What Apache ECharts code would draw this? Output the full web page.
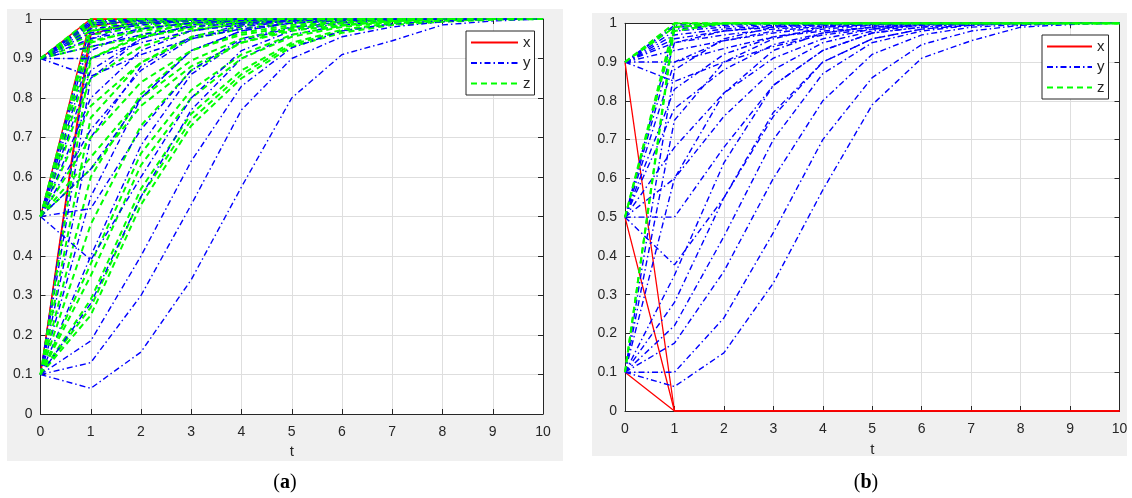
<!DOCTYPE html>
<html><head><meta charset="utf-8">
<script src="https://cdn.jsdelivr.net/npm/echarts@6/dist/echarts.min.js"></script>
<style>html,body{margin:0;padding:0;background:#fff}#c{width:1132px;height:498px}</style>
</head><body><div id="c"></div><script>
const tVals = [0,1,2,3,4,5,6,7,8,9,10];

// Panel (a)
const aX = [
[0.9,1,1,1,1,1,1,1,1,1,1],
[0.5,1,1,1,1,1,1,1,1,1,1],
[0.1,0.98,1,1,1,1,1,1,1,1,1],
[0.1,0.96,1,1,1,1,1,1,1,1,1]
];
const aY = [
[0.1,0.065,0.157,0.34,0.575,0.80,0.91,0.945,0.985,0.995,1],
[0.1,0.13,0.30,0.53,0.77,0.90,0.955,0.98,0.993,1,1],
[0.1,0.185,0.40,0.64,0.83,0.927,0.97,0.988,0.996,1,1],
[0.1,0.28,0.55,0.77,0.90,0.96,0.985,0.995,1,1,1],
[0.1,0.40,0.68,0.86,0.945,0.978,0.992,0.998,1,1,1],
[0.1,0.55,0.80,0.92,0.97,0.99,0.997,1,1,1,1],
[0.1,0.70,0.88,0.955,0.985,0.995,1,1,1,1,1],
[0.1,0.85,0.95,0.985,0.995,1,1,1,1,1,1],
[0.1,0.95,0.99,0.998,1,1,1,1,1,1,1],
[0.5,0.39,0.60,0.80,0.92,0.97,0.99,0.997,1,1,1],
[0.5,0.52,0.72,0.87,0.95,0.98,0.993,1,1,1,1],
[0.5,0.62,0.80,0.92,0.97,0.99,0.997,1,1,1,1],
[0.5,0.72,0.87,0.95,0.98,0.994,1,1,1,1,1],
[0.5,0.80,0.92,0.97,0.99,0.997,1,1,1,1,1],
[0.5,0.87,0.95,0.985,0.995,1,1,1,1,1,1],
[0.5,0.92,0.975,0.99,0.998,1,1,1,1,1,1],
[0.5,0.96,0.99,0.998,1,1,1,1,1,1,1],
[0.5,0.985,0.997,1,1,1,1,1,1,1,1],
[0.9,0.855,0.91,0.95,0.975,0.99,0.996,1,1,1,1],
[0.9,0.90,0.94,0.97,0.985,0.995,1,1,1,1,1],
[0.9,0.93,0.96,0.98,0.99,0.997,1,1,1,1,1],
[0.9,0.95,0.975,0.99,0.996,1,1,1,1,1,1],
[0.9,0.965,0.985,0.995,1,1,1,1,1,1,1],
[0.9,0.975,0.99,0.997,1,1,1,1,1,1,1],
[0.9,0.985,0.995,1,1,1,1,1,1,1,1],
[0.9,0.99,0.998,1,1,1,1,1,1,1,1],
[0.9,0.995,1,1,1,1,1,1,1,1,1]
];
const aZ = [
[0.1,0.25,0.53,0.73,0.85,0.93,0.965,0.985,0.993,0.998,1],
[0.1,0.27,0.55,0.745,0.86,0.935,0.97,0.987,0.995,1,1],
[0.1,0.29,0.57,0.76,0.87,0.94,0.973,0.99,0.996,1,1],
[0.1,0.35,0.63,0.80,0.90,0.955,0.98,0.993,1,1,1],
[0.1,0.38,0.66,0.82,0.91,0.96,0.983,0.995,1,1,1],
[0.1,0.48,0.73,0.87,0.94,0.975,0.99,1,1,1,1],
[0.1,0.60,0.81,0.92,0.965,0.985,0.995,1,1,1,1],
[0.1,0.75,0.89,0.955,0.982,0.994,1,1,1,1,1],
[0.1,0.90,0.96,0.99,0.997,1,1,1,1,1,1],
[0.5,0.62,0.78,0.88,0.94,0.97,0.985,0.995,1,1,1],
[0.5,0.65,0.80,0.895,0.95,0.975,0.99,0.997,1,1,1],
[0.5,0.70,0.84,0.92,0.96,0.98,0.993,1,1,1,1],
[0.5,0.78,0.89,0.95,0.975,0.99,0.997,1,1,1,1],
[0.5,0.85,0.93,0.97,0.99,0.997,1,1,1,1,1],
[0.5,0.90,0.955,0.98,0.993,1,1,1,1,1,1],
[0.5,0.94,0.975,0.99,0.998,1,1,1,1,1,1],
[0.5,0.97,0.99,0.998,1,1,1,1,1,1,1],
[0.5,0.99,1,1,1,1,1,1,1,1,1],
[0.9,0.93,0.955,0.975,0.985,0.993,0.998,1,1,1,1],
[0.9,0.945,0.97,0.985,0.993,1,1,1,1,1,1],
[0.9,0.96,0.98,0.99,0.996,1,1,1,1,1,1],
[0.9,0.97,0.985,0.995,1,1,1,1,1,1,1],
[0.9,0.98,0.99,0.997,1,1,1,1,1,1,1],
[0.9,0.985,0.995,1,1,1,1,1,1,1,1],
[0.9,0.99,0.998,1,1,1,1,1,1,1,1],
[0.9,0.995,1,1,1,1,1,1,1,1,1],
[0.9,1,1,1,1,1,1,1,1,1,1]
];

// Panel (b)
const bX = [
[0.9,0,0,0,0,0,0,0,0,0,0],
[0.5,0,0,0,0,0,0,0,0,0,0],
[0.1,0,0,0,0,0,0,0,0,0,0]
];
const bY = [
[0.1,0.063,0.15,0.33,0.57,0.79,0.91,0.955,0.99,0.997,1],
[0.1,0.10,0.24,0.46,0.70,0.86,0.945,0.98,0.995,1,1],
[0.1,0.175,0.36,0.60,0.80,0.92,0.97,0.99,0.997,1,1],
[0.1,0.22,0.45,0.70,0.87,0.95,0.98,0.995,1,1,1],
[0.1,0.28,0.55,0.77,0.90,0.96,0.985,0.997,1,1,1],
[0.1,0.35,0.64,0.84,0.93,0.975,0.99,1,1,1,1],
[0.1,0.60,0.82,0.93,0.975,0.99,0.997,1,1,1,1],
[0.1,0.75,0.90,0.96,0.99,0.997,1,1,1,1,1],
[0.1,0.88,0.96,0.99,0.998,1,1,1,1,1,1],
[0.5,0.377,0.55,0.76,0.90,0.96,0.985,0.995,1,1,1],
[0.5,0.50,0.68,0.84,0.93,0.975,0.99,1,1,1,1],
[0.5,0.60,0.76,0.88,0.95,0.98,0.995,1,1,1,1],
[0.5,0.68,0.82,0.91,0.96,0.985,0.997,1,1,1,1],
[0.5,0.78,0.88,0.945,0.975,0.99,1,1,1,1,1],
[0.5,0.83,0.92,0.965,0.985,0.995,1,1,1,1,1],
[0.5,0.90,0.955,0.98,0.993,1,1,1,1,1,1],
[0.5,0.95,0.98,0.993,1,1,1,1,1,1,1],
[0.5,0.985,0.995,1,1,1,1,1,1,1,1],
[0.9,0.85,0.90,0.94,0.97,0.985,0.995,1,1,1,1],
[0.9,0.90,0.935,0.965,0.98,0.99,0.997,1,1,1,1],
[0.9,0.93,0.955,0.975,0.99,0.996,1,1,1,1,1],
[0.9,0.95,0.97,0.985,0.995,1,1,1,1,1,1],
[0.9,0.96,0.98,0.99,0.997,1,1,1,1,1,1],
[0.9,0.97,0.985,0.995,1,1,1,1,1,1,1],
[0.9,0.98,0.99,0.998,1,1,1,1,1,1,1],
[0.9,0.99,0.996,1,1,1,1,1,1,1,1],
[0.9,0.995,1,1,1,1,1,1,1,1,1]
];
const bZ = [
[0.1,0.99,1,1,1,1,1,1,1,1,1],
[0.1,1,1,1,1,1,1,1,1,1,1],
[0.5,0.98,1,1,1,1,1,1,1,1,1],
[0.5,1,1,1,1,1,1,1,1,1,1],
[0.9,0.99,1,1,1,1,1,1,1,1,1],
[0.9,1,1,1,1,1,1,1,1,1,1]
];
const legendNames = ['x','y','z'];
const panelLabels = ['a','b'];

const AX = '#262626';
const FONT = 'Liberation Sans';
const styles = {
  x: {color:'#ff0000', width:1.3, type:'solid'},
  y: {color:'#0000ff', width:1.4, type:[6,3,1.5,3]},
  z: {color:'#00ff00', width:2, type:[6,4]}
};
function mk(name, arr, ai){
  return {type:'line', name:name, xAxisIndex:ai, yAxisIndex:ai,
    data: tVals.map((t,i)=>[t, arr[i]]), symbol:'none', showSymbol:false,
    silent:true, animation:false, clip:true,
    itemStyle:{color:styles[name].color},
    lineStyle: styles[name]};
}
const series = [];
aX.forEach(a=>series.push(mk('x',a,0)));
for (let i=0;i<aY.length;i++){ series.push(mk('y',aY[i],0)); series.push(mk('z',aZ[i],0)); }
bX.forEach(a=>series.push(mk('x',a,2)));
bY.forEach(a=>series.push(mk('y',a,2)));
bZ.forEach(a=>series.push(mk('z',a,2)));

function xAxes(g, gap){
  return [
   {gridIndex:g, type:'value', min:0, max:10, interval:1, position:'bottom',
    axisLine:{show:true, onZero:false, lineStyle:{color:AX,width:1}},
    axisTick:{show:true, inside:true, length:5, lineStyle:{color:AX}},
    axisLabel:{margin:11, color:AX, fontSize:14, fontFamily:FONT},
    splitLine:{show:true, lineStyle:{color:'#dedede', width:1}},
    name:'t', nameLocation:'middle', nameGap:gap,
    nameTextStyle:{color:AX, fontSize:15, fontFamily:FONT}},
   {gridIndex:g, type:'value', min:0, max:10, interval:1, position:'top',
    axisLine:{show:true, onZero:false, lineStyle:{color:AX,width:1}},
    axisTick:{show:true, inside:true, length:5, lineStyle:{color:AX}},
    axisLabel:{show:false}, splitLine:{show:false}}
  ];
}
function yAxes(g){
  return [
   {gridIndex:g, type:'value', min:0, max:1, interval:0.1, position:'left',
    axisLine:{show:true, onZero:false, lineStyle:{color:AX,width:1}},
    axisTick:{show:true, inside:true, length:5, lineStyle:{color:AX}},
    axisLabel:{margin:8, color:AX, fontSize:14, fontFamily:FONT},
    splitLine:{show:true, lineStyle:{color:'#dedede', width:1}}},
   {gridIndex:g, type:'value', min:0, max:1, interval:0.1, position:'right',
    axisLine:{show:true, onZero:false, lineStyle:{color:AX,width:1}},
    axisTick:{show:true, inside:true, length:5, lineStyle:{color:AX}},
    axisLabel:{show:false}, splitLine:{show:false}}
  ];
}
function legendAt(left, top, w){
  return {data:legendNames.map(n=>({name:n, itemStyle:{opacity:0}})),
    left:left, top:top, orient:'vertical',
    itemWidth:w, itemHeight:14, itemGap:5.5, padding:[4,4,4,4],
    backgroundColor:'#fff', borderColor:AX, borderWidth:1, borderRadius:0,
    selectedMode:false,
    itemStyle:{opacity:0},
    textStyle:{fontSize:15, color:AX, fontFamily:FONT}};
}
function panelText(letter, x, y){
  return {type:'text', x:x, y:y, silent:true,
    style:{text:'{n|(}{b|'+letter+'}{n|)}', align:'center', verticalAlign:'middle',
      rich:{n:{fontSize:20, fontFamily:'Liberation Serif', fill:'#000'},
            b:{fontSize:20, fontFamily:'Liberation Serif', fontWeight:'bold', fill:'#000'}}}};
}

const chart = echarts.init(document.getElementById('c'), null, {renderer:'canvas'});
chart.setOption({
  animation:false,
  backgroundColor:'#fff',
  graphic:[
    {type:'rect', z:-100, silent:true, shape:{x:7,y:9,width:556,height:452}, style:{fill:'#f0f0f0'}},
    {type:'rect', z:-100, silent:true, shape:{x:592,y:13,width:535,height:443}, style:{fill:'#f0f0f0'}},
    panelText(panelLabels[0], 285, 483),
    panelText(panelLabels[1], 866, 483)
  ],
  grid:[
    {left:40.5, top:19, width:502.5, height:395, show:true, backgroundColor:'#fff', borderWidth:0},
    {left:625, top:23.3, width:494.5, height:387.7, show:true, backgroundColor:'#fff', borderWidth:0}
  ],
  xAxis:[...xAxes(0,30), ...xAxes(1,31)],
  yAxis:[...yAxes(0), ...yAxes(1)],
  legend:[legendAt(466,31,47), legendAt(1042,35,45)],
  series:series
});
</script></body></html>
